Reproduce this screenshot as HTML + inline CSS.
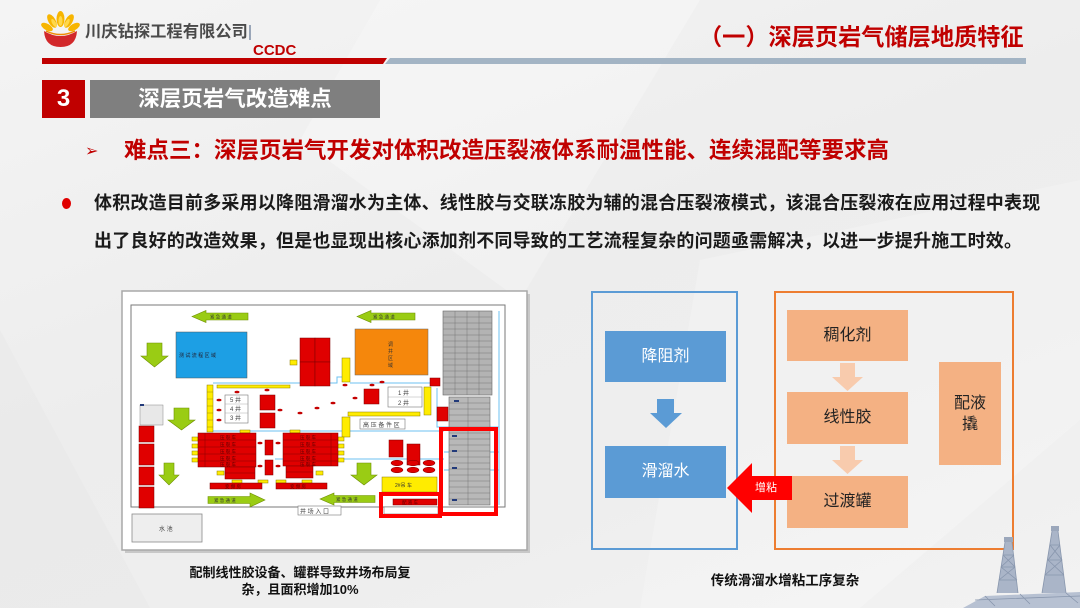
<!DOCTYPE html>
<html><head><meta charset="utf-8">
<style>
*{margin:0;padding:0;box-sizing:border-box}
html,body{width:1080px;height:608px;overflow:hidden}
body{position:relative;background:linear-gradient(160deg,#f4f4f4 0%,#ededed 45%,#eeeeee 70%,#f2f2f2 100%);font-family:"Liberation Sans","Noto Sans CJK SC",sans-serif}
.a{position:absolute;white-space:nowrap}
.cjk{font-family:"Liberation Sans","Noto Sans CJK SC",sans-serif}
</style></head><body>

<svg class="a" style="left:0;top:0" width="1080" height="608" viewBox="0 0 1080 608">
<!-- subtle background facets -->
<polygon points="380,0 700,0 520,300 300,140" fill="#ffffff" opacity="0.25"/>
<polygon points="700,260 1080,180 1080,420 860,608 640,608" fill="#ffffff" opacity="0.22"/>
<polygon points="0,330 150,608 0,608" fill="#e6e6e6" opacity="0.4"/>

<!-- logo -->
<g>
<path d="M44 31 Q45 47 60.5 47 Q76 47 77 31 Q69 36 60.5 36 Q52 36 44 31 Z" fill="#d2282a"/>
<g fill="#f7b500">
<ellipse cx="60.5" cy="19" rx="4" ry="8"/>
<ellipse cx="52" cy="21" rx="3.6" ry="7.5" transform="rotate(-30 52 21)"/>
<ellipse cx="69" cy="21" rx="3.6" ry="7.5" transform="rotate(30 69 21)"/>
<ellipse cx="47" cy="27" rx="3.2" ry="6.5" transform="rotate(-60 47 27)"/>
<ellipse cx="74" cy="27" rx="3.2" ry="6.5" transform="rotate(60 74 27)"/>
</g>
<g fill="#ffd84a">
<ellipse cx="60.5" cy="21" rx="2" ry="5"/>
<ellipse cx="54" cy="23" rx="1.8" ry="4.5" transform="rotate(-30 54 23)"/>
<ellipse cx="67" cy="23" rx="1.8" ry="4.5" transform="rotate(30 67 23)"/>
</g>
<path d="M46 31 Q60.5 38 75 31" stroke="#f08a00" stroke-width="1.5" fill="none"/>
</g>
<rect x="249" y="25" width="2" height="15" fill="#9aa6b8"/>
<!-- header lines -->
<polygon points="42,58 387,58 383,64 42,64" fill="#c00000"/>
<polygon points="390,58 1026,58 1026,64 385,64" fill="#a3b4c4"/>

<!-- ===== LEFT IMAGE ===== -->
<rect x="125" y="294" width="405" height="259" fill="#c8c8c8"/>
<rect x="122" y="291" width="405" height="259" fill="#ffffff" stroke="#a8a8a8" stroke-width="1.5"/>
<rect x="131" y="305" width="374" height="202" fill="none" stroke="#7a7a7a" stroke-width="1"/>

<!-- blue lines -->
<g stroke="#6cc2f0" stroke-width="1" fill="none">
<line x1="499" y1="311" x2="499" y2="505"/>
<path d="M213 383 H337 V377 H342 M350 383 H440"/>
<path d="M213 431 H444"/>
<path d="M275 459 H283 M338 459 H444"/>
<path d="M437 388 V427 H499"/>
<path d="M444 452 H499 M444 470 H499"/>
</g>

<!-- green arrows -->
<g fill="#9acc14" stroke="#6f8f00" stroke-width="0.6">
<polygon points="192,316.5 206,310.5 206,313 248,313 248,320 206,320 206,322.5"/>
<polygon points="357,316.5 371,310.5 371,313 415,313 415,320 371,320 371,322.5"/>
<polygon points="208,496.5 250,496.5 250,493 265,500 250,507 250,503.5 208,503.5"/>
<polygon points="320,499 334,493 334,495.5 375,495.5 375,502.5 334,502.5 334,505"/>
<polygon points="147,343 162,343 162,356 168,356 154.5,367 141,356 147,356"/>
<polygon points="174,408 189,408 189,420 195,420 181.5,430 168,420 174,420"/>
<polygon points="164,463 174,463 174,475 179,475 169,485 159,475 164,475"/>
<polygon points="357,463 371,463 371,475 377,475 364,485 351,475 357,475"/>
</g>
<g font-size="4.5" fill="#333" class="cjk">
<text x="210" y="318.5">紧 急 通 道</text>
<text x="373" y="318.5">紧 急 通 道</text>
<text x="214" y="502">紧 急 通 道</text>
<text x="336" y="501">紧 急 通 道</text>
</g>

<!-- blue & orange areas -->
<rect x="176" y="332" width="71" height="46" fill="#1d9fe4" stroke="#555" stroke-width="0.5"/>
<text x="179" y="357" font-size="5" fill="#223" class="cjk">测 试 流 程 区 域</text>
<rect x="355" y="329" width="73" height="46" fill="#f5870c" stroke="#666" stroke-width="0.5"/>
<g font-size="5" fill="#333" class="cjk"><text x="388" y="346">调</text><text x="388" y="353">井</text><text x="388" y="360">区</text><text x="388" y="367">域</text></g>

<!-- gray tanks -->
<rect x="443" y="311" width="49" height="84" fill="#b3b3b3" stroke="#666" stroke-width="0.6"/>
<g stroke="#777" stroke-width="0.5">
<line x1="443" y1="317" x2="492" y2="317"/><line x1="443" y1="323" x2="492" y2="323"/><line x1="443" y1="329" x2="492" y2="329"/><line x1="443" y1="335" x2="492" y2="335"/><line x1="443" y1="341" x2="492" y2="341"/><line x1="443" y1="347" x2="492" y2="347"/><line x1="443" y1="353" x2="492" y2="353"/><line x1="443" y1="359" x2="492" y2="359"/><line x1="443" y1="365" x2="492" y2="365"/><line x1="443" y1="371" x2="492" y2="371"/><line x1="443" y1="377" x2="492" y2="377"/><line x1="443" y1="383" x2="492" y2="383"/><line x1="443" y1="389" x2="492" y2="389"/>
<line x1="455" y1="311" x2="455" y2="395"/><line x1="467" y1="311" x2="467" y2="395"/><line x1="479" y1="311" x2="479" y2="395"/>
</g>
<rect x="449" y="397" width="41" height="108" fill="#b8b8b8" stroke="#666" stroke-width="0.6"/>
<g stroke="#777" stroke-width="0.5">
<line x1="449" y1="403" x2="490" y2="403"/><line x1="449" y1="409" x2="490" y2="409"/><line x1="449" y1="415" x2="490" y2="415"/><line x1="449" y1="421" x2="490" y2="421"/><line x1="449" y1="427" x2="490" y2="427"/><line x1="449" y1="433" x2="490" y2="433"/><line x1="449" y1="439" x2="490" y2="439"/><line x1="449" y1="445" x2="490" y2="445"/><line x1="449" y1="451" x2="490" y2="451"/><line x1="449" y1="457" x2="490" y2="457"/><line x1="449" y1="463" x2="490" y2="463"/><line x1="449" y1="469" x2="490" y2="469"/><line x1="449" y1="475" x2="490" y2="475"/><line x1="449" y1="481" x2="490" y2="481"/><line x1="449" y1="487" x2="490" y2="487"/><line x1="449" y1="493" x2="490" y2="493"/><line x1="449" y1="499" x2="490" y2="499"/>
<line x1="468" y1="397" x2="468" y2="505"/>
</g>
<g fill="#223a7a"><rect x="452" y="435" width="5" height="2"/><rect x="452" y="450" width="5" height="2"/><rect x="452" y="467" width="5" height="2"/><rect x="452" y="499" width="5" height="2"/><rect x="454" y="400" width="5" height="2"/></g>

<!-- yellow items -->
<g fill="#ffec00" stroke="#8a7a00" stroke-width="0.5">
<rect x="290" y="360" width="7" height="5"/>
<rect x="217" y="385" width="73" height="3"/>
<rect x="207" y="385" width="6" height="47"/>
<rect x="342" y="358" width="8" height="24"/>
<rect x="424" y="387" width="7" height="28"/>
<rect x="348" y="412" width="72" height="4"/>
<rect x="342" y="417" width="8" height="20"/>
<rect x="382" y="477" width="55" height="15"/>
<rect x="192" y="437" width="6" height="4"/><rect x="192" y="444" width="6" height="4"/><rect x="192" y="451" width="6" height="4"/><rect x="192" y="458" width="6" height="4"/>
<rect x="338" y="437" width="6" height="4"/><rect x="338" y="444" width="6" height="4"/><rect x="338" y="451" width="6" height="4"/><rect x="338" y="458" width="6" height="4"/>
<rect x="217" y="471" width="7" height="4"/><rect x="316" y="471" width="7" height="4"/>
<rect x="232" y="480" width="10" height="3"/><rect x="258" y="480" width="10" height="3"/><rect x="276" y="480" width="10" height="3"/><rect x="302" y="480" width="10" height="3"/>
<rect x="240" y="430" width="10" height="3"/><rect x="290" y="430" width="10" height="3"/>
</g>
<g stroke="#8a7a00" stroke-width="0.4"><line x1="207" y1="392" x2="213" y2="392"/><line x1="207" y1="399" x2="213" y2="399"/><line x1="207" y1="406" x2="213" y2="406"/><line x1="207" y1="413" x2="213" y2="413"/><line x1="207" y1="420" x2="213" y2="420"/><line x1="207" y1="427" x2="213" y2="427"/></g>
<text x="395" y="487" font-size="5" fill="#333" class="cjk">2#吊 车</text>

<!-- red items -->
<g fill="#e00000" stroke="#7a0000" stroke-width="0.5">
<rect x="300" y="338" width="15" height="24"/><rect x="315" y="338" width="15" height="24"/>
<rect x="300" y="362" width="15" height="24"/><rect x="315" y="362" width="15" height="24"/>
<rect x="430" y="378" width="10" height="8"/>
<rect x="437" y="407" width="11" height="14"/>
<rect x="364" y="389" width="15" height="15"/>
<rect x="260" y="395" width="15" height="15"/><rect x="260" y="413" width="15" height="15"/>
<rect x="198" y="433" width="58" height="34"/>
<rect x="225" y="467" width="30" height="12"/>
<rect x="210" y="483" width="52" height="6"/>
<rect x="283" y="433" width="55" height="33"/>
<rect x="286" y="466" width="27" height="12"/>
<rect x="276" y="483" width="51" height="6"/>
<rect x="265" y="440" width="8" height="15"/><rect x="265" y="460" width="8" height="15"/>
<rect x="139" y="426" width="15" height="16"/><rect x="139" y="444" width="15" height="21"/><rect x="139" y="467" width="15" height="18"/><rect x="139" y="487" width="15" height="21"/>
<rect x="389" y="440" width="14" height="17"/><rect x="407" y="444" width="13" height="21"/>
<rect x="393" y="499" width="44" height="6"/>
<ellipse cx="397" cy="463" rx="6" ry="2.8"/><ellipse cx="413" cy="463" rx="6" ry="2.8"/><ellipse cx="429" cy="463" rx="6" ry="2.8"/>
<ellipse cx="397" cy="470" rx="6" ry="2.8"/><ellipse cx="413" cy="470" rx="6" ry="2.8"/><ellipse cx="429" cy="470" rx="6" ry="2.8"/>
</g>
<g stroke="#8a0000" stroke-width="0.5">
<line x1="198" y1="440" x2="256" y2="440"/><line x1="198" y1="447" x2="256" y2="447"/><line x1="198" y1="454" x2="256" y2="454"/><line x1="198" y1="461" x2="256" y2="461"/>
<line x1="283" y1="440" x2="338" y2="440"/><line x1="283" y1="447" x2="338" y2="447"/><line x1="283" y1="454" x2="338" y2="454"/><line x1="283" y1="461" x2="338" y2="461"/>
<line x1="205" y1="433" x2="205" y2="467"/><line x1="331" y1="433" x2="331" y2="466"/>
<line x1="225" y1="473" x2="255" y2="473"/><line x1="286" y1="472" x2="313" y2="472"/>
</g>
<g font-size="4.5" fill="#5a0000" class="cjk">
<text x="220" y="439">压 裂 车</text><text x="220" y="446">压 裂 车</text><text x="220" y="453">压 裂 车</text><text x="220" y="460">压 裂 车</text><text x="220" y="466">压 裂 车</text>
<text x="300" y="439">压 裂 车</text><text x="300" y="446">压 裂 车</text><text x="300" y="453">压 裂 车</text><text x="300" y="460">压 裂 车</text><text x="300" y="466">压 裂 车</text>
<text x="225" y="488">变 频 房</text><text x="290" y="488">变 频 房</text><text x="402" y="504">配 液 车</text>
</g>
<g fill="#c40000">
<ellipse cx="237" cy="392" rx="2.5" ry="1.3"/><ellipse cx="219" cy="400" rx="2.5" ry="1.3"/><ellipse cx="219" cy="410" rx="2.5" ry="1.3"/><ellipse cx="219" cy="420" rx="2.5" ry="1.3"/>
<ellipse cx="300" cy="413" rx="2.5" ry="1.3"/><ellipse cx="317" cy="408" rx="2.5" ry="1.3"/><ellipse cx="333" cy="403" rx="2.5" ry="1.3"/>
<ellipse cx="345" cy="385" rx="2.5" ry="1.3"/><ellipse cx="372" cy="385" rx="2.5" ry="1.3"/><ellipse cx="355" cy="398" rx="2.5" ry="1.3"/>
<ellipse cx="418" cy="392" rx="2.5" ry="1.3"/><ellipse cx="418" cy="403" rx="2.5" ry="1.3"/><ellipse cx="382" cy="382" rx="2.5" ry="1.3"/>
<ellipse cx="260" cy="443" rx="2.5" ry="1.3"/><ellipse cx="278" cy="443" rx="2.5" ry="1.3"/><ellipse cx="260" cy="466" rx="2.5" ry="1.3"/><ellipse cx="278" cy="466" rx="2.5" ry="1.3"/>
<ellipse cx="267" cy="390" rx="2.5" ry="1.3"/><ellipse cx="280" cy="410" rx="2.5" ry="1.3"/><ellipse cx="240" cy="415" rx="2.5" ry="1.3"/>
</g>

<!-- white label boxes -->
<g fill="#ffffff" stroke="#777" stroke-width="0.6">
<rect x="225" y="395" width="23" height="28"/>
<rect x="388" y="387" width="34" height="20"/>
<rect x="360" y="419" width="45" height="10"/>
<rect x="298" y="506" width="43" height="9"/>
<rect x="384" y="507" width="54" height="7"/>
</g>
<g stroke="#999" stroke-width="0.4"><line x1="225" y1="404" x2="248" y2="404"/><line x1="225" y1="413" x2="248" y2="413"/><line x1="388" y1="397" x2="422" y2="397"/></g>
<g font-size="6" fill="#444" class="cjk">
<text x="230" y="402">5 井</text><text x="230" y="411">4 井</text><text x="230" y="420">3 井</text>
<text x="398" y="395">1 井</text><text x="398" y="405">2 井</text>
</g>
<text x="363" y="427" font-size="6" fill="#444" class="cjk">高 压 备 件 区</text>
<text x="300" y="513.5" font-size="6" fill="#444" class="cjk">井 场 入 口</text>
<rect x="140" y="405" width="23" height="20" fill="#e8e8e8" stroke="#888" stroke-width="0.5"/>
<rect x="140" y="404" width="4" height="2" fill="#223a7a"/>
<rect x="132" y="514" width="70" height="28" fill="#eeeeee" stroke="#8a8a8a" stroke-width="0.8"/>
<text x="159" y="531" font-size="6" fill="#444" class="cjk">水 池</text>

<!-- red emphasis -->
<rect x="441" y="429" width="55" height="85" fill="none" stroke="#ff0000" stroke-width="4"/>
<rect x="381" y="494" width="59" height="22" fill="none" stroke="#ff0000" stroke-width="4"/>

<!-- ===== RIGHT DIAGRAM ===== -->
<rect x="592" y="292" width="145" height="257" fill="none" stroke="#5b9bd5" stroke-width="2"/>
<rect x="605" y="331" width="121" height="51" fill="#5b9bd5"/>
<polygon points="657,399 674,399 674,413 682,413 666,428 650,413 657,413" fill="#5b9bd5"/>
<rect x="605" y="446" width="121" height="52" fill="#5b9bd5"/>

<rect x="775" y="292" width="238" height="257" fill="none" stroke="#ed7d31" stroke-width="2"/>
<rect x="787" y="310" width="121" height="51" fill="#f4b183"/>
<polygon points="840,363 855,363 855,377 863,377 847.5,391 832,377 840,377" fill="#f8cbad"/>
<rect x="787" y="392" width="121" height="52" fill="#f4b183"/>
<polygon points="840,446 855,446 855,460 863,460 847.5,474 832,460 840,460" fill="#f8cbad"/>
<rect x="787" y="476" width="121" height="52" fill="#f4b183"/>
<rect x="939" y="362" width="62" height="103" fill="#f4b183"/>

<polygon points="727,488 752,463 752,476 792,476 792,500 752,500 752,513" fill="#ff0000"/>

<!-- derricks -->
<g>
<polygon points="963,608 985,596 1080,592 1080,608" fill="#b7c1d2"/>
<polygon points="1005,542 1012,542 1018,593 997,593" fill="#aab5c8"/>
<polygon points="1052,531 1058,531 1066,593 1042,593" fill="#aab5c8"/>
<g stroke="#8896ad" stroke-width="0.8" fill="none">
<path d="M1005 542 L997 593 M1012 542 L1018 593 M1003 555 L1014 555 M1001 567 L1015 567 M999 580 L1017 580 M1003 555 L1015 567 L999 580 M1014 555 L1001 567 L1017 580"/>
<path d="M1052 531 L1042 593 M1058 531 L1066 593 M1050 545 L1060 545 M1048 560 L1062 560 M1045 575 L1064 575 M1050 545 L1062 560 L1045 575 M1060 545 L1048 560 L1064 575"/>
<path d="M975 600 L1080 596 M985 596 L995 606 M1020 594 L1030 604 M1066 593 L1078 603"/>
</g>
<rect x="1004" y="537" width="9" height="5" fill="#9ba7bb"/>
<rect x="1051" y="526" width="8" height="5" fill="#9ba7bb"/>
</g>
</svg>

<!-- header text -->
<div class="a" style="left:85px;top:21px;font-size:16.3px;font-weight:bold;color:#4a4a4a;line-height:22px">川庆钻探工程有限公司</div>
<div class="a" style="left:253px;top:43px;font-size:15px;font-weight:bold;color:#c00000;line-height:16px;font-family:'Liberation Sans',sans-serif">CCDC</div>
<div class="a" style="left:699px;top:23px;font-size:23.2px;font-weight:bold;color:#c00000;line-height:28px">（一）深层页岩气储层地质特征</div>

<!-- section bar -->
<div class="a" style="left:42px;top:80px;width:43px;height:38px;background:#c00000;color:#fff;font-size:24px;font-weight:bold;text-align:center;line-height:38px">3</div>
<div class="a" style="left:90px;top:80px;width:290px;height:38px;background:#7f7f7f;color:#fff;font-size:21.5px;font-weight:bold;text-align:center;line-height:38px">深层页岩气改造难点</div>

<!-- heading -->
<div class="a" style="left:85px;top:137px;font-size:16px;color:#c00000;line-height:28px;font-family:'DejaVu Sans',sans-serif">➢</div>
<div class="a" style="left:124px;top:136px;font-size:22.5px;font-weight:bold;color:#c00000;line-height:30px">难点三：深层页岩气开发对体积改造压裂液体系耐温性能、连续混配等要求高</div>

<!-- bullet -->
<div class="a" style="left:62px;top:198px;width:9px;height:11px;border-radius:50%;background:#e00000"></div>
<div class="a" style="left:94px;top:184px;font-size:18px;font-weight:bold;color:#1a1a1a;line-height:38px;letter-spacing:0.2px">体积改造目前多采用以降阻滑溜水为主体、线性胶与交联冻胶为辅的混合压裂液模式，该混合压裂液在应用过程中表现<br>出了良好的改造效果，但是也显现出核心添加剂不同导致的工艺流程复杂的问题亟需解决，以进一步提升施工时效。</div>

<!-- right diagram labels -->
<div class="a" style="left:605px;top:331px;width:121px;height:51px;line-height:51px;text-align:center;color:#fff;font-size:16px">降阻剂</div>
<div class="a" style="left:605px;top:446px;width:121px;height:52px;line-height:52px;text-align:center;color:#fff;font-size:16px">滑溜水</div>
<div class="a" style="left:787px;top:310px;width:121px;height:51px;line-height:51px;text-align:center;color:#222;font-size:16px">稠化剂</div>
<div class="a" style="left:787px;top:392px;width:121px;height:52px;line-height:52px;text-align:center;color:#222;font-size:16px">线性胶</div>
<div class="a" style="left:787px;top:476px;width:121px;height:52px;line-height:52px;text-align:center;color:#222;font-size:16px">过渡罐</div>
<div class="a" style="left:939px;top:393px;width:62px;text-align:center;color:#222;font-size:16px;line-height:21px">配液<br>撬</div>
<div class="a" style="left:752px;top:480px;width:28px;text-align:center;color:#fff;font-size:11px;line-height:16px">增粘</div>

<!-- captions -->
<div class="a" style="left:150px;top:564px;width:300px;text-align:center;font-size:13px;font-weight:bold;color:#111;line-height:17px">配制线性胶设备、罐群导致井场布局复<br>杂，且面积增加10%</div>
<div class="a" style="left:685px;top:572px;width:200px;text-align:center;font-size:13.5px;font-weight:bold;color:#111;line-height:18px">传统滑溜水增粘工序复杂</div>

</body></html>
